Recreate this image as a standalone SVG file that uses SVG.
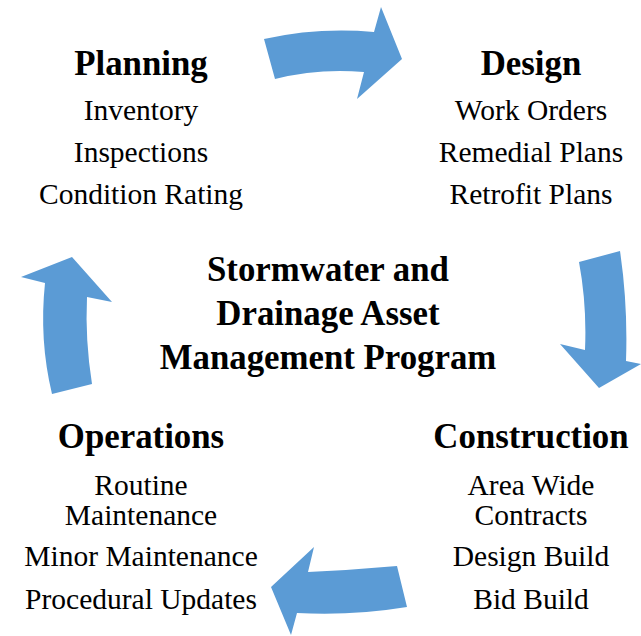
<svg xmlns="http://www.w3.org/2000/svg" width="641" height="636" viewBox="0 0 641 636">
<style>
.h{font-family:"Liberation Serif","Times New Roman",serif;font-weight:bold;font-size:34.8px;fill:#000;text-anchor:middle}
.t{font-family:"Liberation Serif","Times New Roman",serif;font-size:29.5px;fill:#000;text-anchor:middle}
.arr{fill:#5b9bd5;stroke:none}
</style>
<rect width="641" height="636" fill="#fff"/>
<g id="connectors">
<path class="arr" d="M264,39 Q318,27 374,32 L381,7 L402,59 L357,99 L364,72 Q318,68 275,79 Z"/>
<path class="arr" d="M579,262 L620,251 Q628,305 626,361 L641,364 L599,388 L560,344 L585,350 Q587,305 579,262 Z"/>
<path class="arr" d="M397,566 Q352,570 308,572 L314,547 L271,587 L291,635 L297,613 Q352,616 407,607 Z"/>
<path class="arr" d="M52,394 L92,384 Q85,340 87,297 L112,302 L72,257 L21,277 L45,283 Q39,340 52,394 Z"/>
</g>
<g id="planning">
<text class="h" x="141" y="75">Planning</text>
<text class="t" x="141" y="120">Inventory</text>
<text class="t" x="141" y="162">Inspections</text>
<text class="t" x="141" y="204">Condition Rating</text>
</g>
<g id="design">
<text class="h" x="531" y="75">Design</text>
<text class="t" x="531" y="120">Work Orders</text>
<text class="t" x="531" y="162">Remedial Plans</text>
<text class="t" x="531" y="204">Retrofit Plans</text>
</g>
<g id="center">
<text class="h" x="328" y="281">Stormwater and</text>
<text class="h" x="328" y="325">Drainage Asset</text>
<text class="h" x="328" y="369">Management Program</text>
</g>
<g id="operations">
<text class="h" x="141" y="448">Operations</text>
<text class="t" x="141" y="495">Routine</text>
<text class="t" x="141" y="525">Maintenance</text>
<text class="t" x="141" y="566">Minor Maintenance</text>
<text class="t" x="141" y="609">Procedural Updates</text>
</g>
<g id="construction">
<text class="h" x="531" y="448">Construction</text>
<text class="t" x="531" y="495">Area Wide</text>
<text class="t" x="531" y="525">Contracts</text>
<text class="t" x="531" y="566">Design Build</text>
<text class="t" x="531" y="609">Bid Build</text>
</g>
</svg>
